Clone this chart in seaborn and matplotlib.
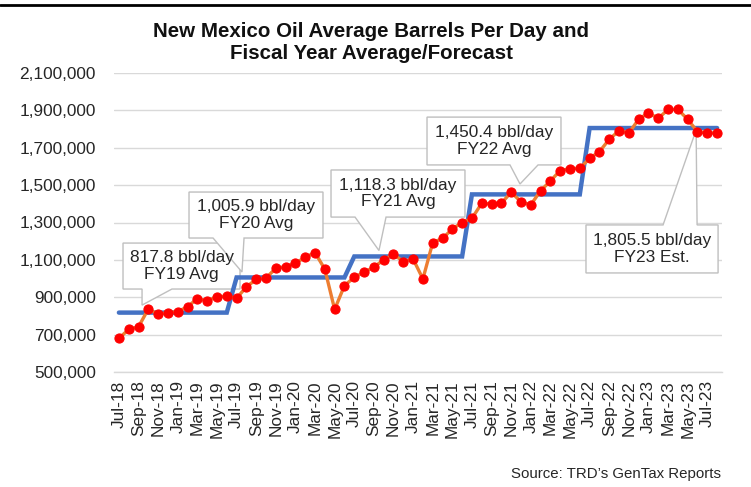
import matplotlib
matplotlib.use("Agg")
import matplotlib.pyplot as plt
from matplotlib.patches import Polygon
from matplotlib.lines import Line2D
from matplotlib.ticker import FuncFormatter, FixedLocator
import seaborn as sns
import pandas as pd
import numpy as np

# ---------------- data ----------------
months = pd.date_range("2018-07-01", "2023-08-01", freq="MS")
month_labels = [d.strftime("%b-%y") for d in months]

monthly_bpd = [
    680000, 728000, 742000, 837000, 809000, 817000, 823000, 849000, 893000, 881000, 903000, 905000,   # FY19
    894000, 956000, 995000, 1003000, 1055000, 1064000, 1082000, 1114000, 1139000, 1050000, 835000, 962000,  # FY20
    1007000, 1034000, 1061000, 1100000, 1130000, 1091000, 1105000, 998000, 1192000, 1215000, 1265000, 1300000,  # FY21
    1322000, 1403000, 1399000, 1403000, 1462000, 1411000, 1394000, 1470000, 1522000, 1578000, 1588000, 1590000,  # FY22
    1643000, 1679000, 1745000, 1791000, 1779000, 1852000, 1887000, 1857000, 1905000, 1905000, 1852000, 1786000,  # FY23
    1779000, 1780000,  # FY24 to date
]

fy_names = ["FY19", "FY20", "FY21", "FY22", "FY23"]
fy_avg = [817800, 1005900, 1118300, 1450400, 1805500]
fy_labels = ["817.8 bbl/day\nFY19 Avg", "1,005.9 bbl/day\nFY20 Avg",
             "1,118.3 bbl/day\nFY21 Avg", "1,450.4 bbl/day\nFY22 Avg",
             "1,805.5 bbl/day\nFY23 Est."]

y_ticks = list(range(500000, 2100001, 200000))

# fiscal year of each month (FY starts in July); months past FY23 carry the FY23 estimate
fy_index = [min((d.year + (1 if d.month >= 7 else 0)) - 2019, len(fy_avg) - 1) for d in months]
fy_line = [fy_avg[i] for i in fy_index]

df = pd.DataFrame({"idx": np.arange(len(months)), "bpd": monthly_bpd, "fy": fy_line})

# ---------------- figure ----------------
sns.set_style("white")
plt.rcParams["font.family"] = ["Liberation Sans", "DejaVu Sans"]
TXT = "#262626"

fig = plt.figure(figsize=(7.51, 4.87), dpi=100)
ax = fig.add_axes([114 / 751, 1 - 372 / 487, 608 / 751, 299 / 487])

sns.lineplot(data=df, x="idx", y="fy", ax=ax, color="#4472C4", linewidth=3.2,
             zorder=3, solid_joinstyle="miter")
sns.lineplot(data=df, x="idx", y="bpd", ax=ax, color="#ED7D31", linewidth=2.4,
             marker="o", markersize=6.6, markerfacecolor="#FF0000",
             markeredgecolor="#FF0000", zorder=4)

ax.set_xlim(-0.5, len(months) - 0.5)
ax.set_ylim(500000, 2100000)
ax.set_xlabel("")
ax.set_ylabel("")

ax.set_yticks(y_ticks)
ax.yaxis.set_major_formatter(FuncFormatter(lambda v, p: f"{int(v):,}"))
ax.grid(axis="y", color="#d9d9d9", linewidth=1, zorder=0)
ax.grid(axis="x", visible=False)
ax.tick_params(axis="y", length=0, pad=13, labelsize=12.4, labelcolor=TXT)

ax.set_xticks(df["idx"][::2])
ax.set_xticklabels(month_labels[::2], rotation=90)
ax.tick_params(axis="x", which="major", length=0, pad=6, labelsize=12.4, labelcolor=TXT)
ax.xaxis.set_minor_locator(FixedLocator(np.arange(-0.5, len(months), 2)))
ax.tick_params(axis="x", which="minor", length=4, color="#d9d9d9", width=1)

for s in ["top", "right", "left"]:
    ax.spines[s].set_visible(False)
ax.spines["bottom"].set_color("#d9d9d9")
ax.spines["bottom"].set_linewidth(1)

# ---------------- callouts ----------------
# (x0, x1, y_bottom, y_top, pointer base x0, base x1, tip x, tip y, side)
callouts = [
    (0.42, 12.35, 944000, 1190000, 2.36, 5.41, 2.36, 858000, "bottom"),
    (7.15, 20.81, 1217000, 1463000, 9.6, 12.76, 12.55, 1035000, "bottom"),
    (21.63, 35.29, 1329000, 1581000, 24.08, 27.24, 26.52, 1150000, "bottom"),
    (31.42, 45.08, 1608000, 1864000, 39.88, 42.74, 40.9, 1506000, "bottom"),
    (47.63, 61.1, 1030000, 1287000, 55.49, 58.96, 58.86, 1795000, "top"),
]
for (x0, x1, yb, yt, b0, b1, tx, ty, side), label in zip(callouts, fy_labels):
    if side == "bottom":
        verts = [(x0, yt), (x1, yt), (x1, yb), (b1, yb), (tx, ty), (b0, yb), (x0, yb)]
    else:
        verts = [(x0, yt), (b0, yt), (tx, ty), (b1, yt), (x1, yt), (x1, yb), (x0, yb)]
    ax.add_patch(Polygon(verts, closed=True, facecolor="white", edgecolor="#bfbfbf",
                         linewidth=1, zorder=2, joinstyle="miter"))
    ax.text((x0 + x1) / 2, (yb + yt) / 2, label, ha="center", va="center",
            fontsize=12.4, color=TXT, linespacing=1.15, zorder=2.5)

# ---------------- titles / frame ----------------
fig.text(371 / 751, 1 - 22 / 487,
         "New Mexico Oil Average Barrels Per Day and\nFiscal Year Average/Forecast",
         ha="center", va="top", fontsize=14.8, fontweight="bold", color="#111111",
         linespacing=1.2)
fig.text(721 / 751, 1 - 478 / 487, "Source: TRD\u2019s GenTax Reports",
         ha="right", va="baseline", fontsize=10.8, color=TXT)
fig.add_artist(Line2D([0, 1], [1 - 5 / 487] * 2, color="black", linewidth=2))

fig.savefig("out.png", dpi=100)
